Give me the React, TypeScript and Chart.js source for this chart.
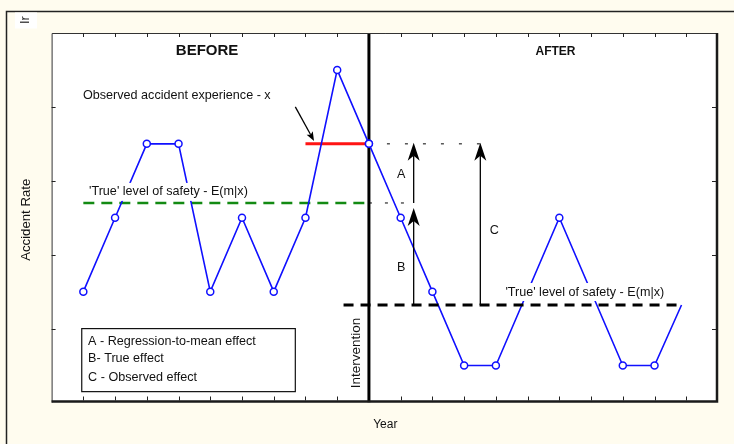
import React, { useEffect, useRef } from "react";
import { Chart, registerables } from "chart.js";

Chart.register(...registerables);

// ---- data ----
const beforeYears = [1, 2, 3, 4, 5, 6, 7, 8, 9, 10];
const beforeRates = [1.5, 2.5, 3.5, 3.5, 1.5, 2.5, 1.5, 2.5, 4.5, 3.5];
const afterYears = [10, 11, 12, 13, 14, 16, 18, 19, 19.85];
const afterRates = [3.5, 2.5, 1.5, 0.5, 0.5, 2.5, 0.5, 0.5, 1.32];
const afterMarkerShown = [1, 1, 1, 1, 1, 1, 1, 1, 0];

const interventionYear = 10;
const observedLevel = 3.5; // x
const trueLevelBefore = 2.7; // E(m|x) before
const trueLevelAfter = 1.32; // E(m|x) after
const observedSpan = [8, 10];
const trueBeforeSpan = [1, 10];
const trueAfterSpan = [9.2, 19.85];
const dottedObservedSpan = [10, 13.6];
const dottedTrueSpan = [10, 11.4];
const arrowABx = 11.41;
const arrowCx = 13.51;

const xTicks = [1, 2, 3, 4, 5, 6, 7, 8, 9, 11, 12, 13, 14, 15, 16, 17, 18, 19, 20];
const yTicks = [1, 2, 3, 4];

const legendLines = ["A - Regression-to-mean effect", "B- True effect", "C - Observed effect"];

const FONT = "'Liberation Sans', Arial, sans-serif";
const BLUE = "#1010ff";
const CREAM = "#fffcef";

function pts(xs: number[], ys: number[]) {
  return xs.map((x, i) => ({ x, y: ys[i] }));
}

function drawArrow(
  ctx: CanvasRenderingContext2D,
  x1: number, y1: number, x2: number, y2: number,
  headLen: number, headW: number, notch: number, lw: number
) {
  const ang = Math.atan2(y2 - y1, x2 - x1);
  const cos = Math.cos(ang), sin = Math.sin(ang);
  const bx = x2 - cos * (headLen - notch), by = y2 - sin * (headLen - notch);
  ctx.save();
  ctx.strokeStyle = "#000";
  ctx.fillStyle = "#000";
  ctx.lineWidth = lw;
  ctx.beginPath();
  ctx.moveTo(x1, y1);
  ctx.lineTo(bx, by);
  ctx.stroke();
  const backX = x2 - cos * headLen, backY = y2 - sin * headLen;
  ctx.beginPath();
  ctx.moveTo(x2, y2);
  ctx.lineTo(backX - sin * headW / 2, backY + cos * headW / 2);
  ctx.lineTo(bx, by);
  ctx.lineTo(backX + sin * headW / 2, backY - cos * headW / 2);
  ctx.closePath();
  ctx.fill();
  ctx.restore();
}

const decorPlugin = {
  id: "decor",
  beforeDraw(chart: any) {
    const { ctx, chartArea: a, width, height } = chart;
    ctx.save();
    ctx.fillStyle = CREAM;
    ctx.fillRect(0, 0, width, height);
    // outer frame
    ctx.strokeStyle = "#222";
    ctx.lineWidth = 1.5;
    ctx.beginPath();
    ctx.moveTo(6.5, height);
    ctx.lineTo(6.5, 11.5);
    ctx.lineTo(width, 11.5);
    ctx.stroke();
    // small clipped title box
    ctx.fillStyle = "#fff";
    ctx.fillRect(15, 12.5, 22, 16);
    ctx.beginPath();
    ctx.rect(15, 12.5, 22, 16);
    ctx.clip();
    ctx.translate(29, 24);
    ctx.rotate(-Math.PI / 2);
    ctx.fillStyle = "#222";
    ctx.font = `13px ${FONT}`;
    ctx.textBaseline = "alphabetic";
    ctx.fillText("Ir", 0, 0);
    ctx.restore();
    // plot area
    ctx.save();
    ctx.fillStyle = "#fff";
    ctx.fillRect(a.left, a.top, a.right - a.left, a.bottom - a.top);
    ctx.restore();
  },
  afterDatasetsDraw(chart: any) {
    const { ctx, chartArea: a } = chart;
    const xs = chart.scales.x, ys = chart.scales.y;
    const X = (v: number) => xs.getPixelForValue(v);
    const Y = (v: number) => ys.getPixelForValue(v);
    ctx.save();
    // frame
    ctx.strokeStyle = "#333";
    ctx.lineWidth = 1;
    ctx.beginPath();
    ctx.moveTo(a.left + 0.5, a.bottom);
    ctx.lineTo(a.left + 0.5, a.top + 0.5);
    ctx.lineTo(a.right, a.top + 0.5);
    ctx.stroke();
    ctx.strokeStyle = "#1a1a1a";
    ctx.lineWidth = 2.5;
    ctx.beginPath();
    ctx.moveTo(a.right - 1, a.top);
    ctx.lineTo(a.right - 1, a.bottom - 1);
    ctx.lineTo(a.left, a.bottom - 1);
    ctx.stroke();
    // ticks
    ctx.strokeStyle = "#222";
    ctx.lineWidth = 1;
    ctx.beginPath();
    xTicks.forEach((t) => {
      const px = Math.round(X(t)) + 0.5;
      ctx.moveTo(px, a.top);
      ctx.lineTo(px, a.top + 4);
      ctx.moveTo(px, a.bottom - 2);
      ctx.lineTo(px, a.bottom - 6);
    });
    yTicks.forEach((t) => {
      const py = Math.round(Y(t)) + 0.5;
      ctx.moveTo(a.left, py);
      ctx.lineTo(a.left + 4, py);
      ctx.moveTo(a.right - 2, py);
      ctx.lineTo(a.right - 6, py);
    });
    ctx.stroke();

    // arrows A, B, C
    drawArrow(ctx, X(arrowABx), Y(trueLevelBefore), X(arrowABx), Y(observedLevel) - 1, 18, 12, 5, 1.3);
    drawArrow(ctx, X(arrowABx), Y(trueLevelAfter), X(arrowABx), Y(trueLevelBefore) + 5, 18, 12, 5, 1.3);
    drawArrow(ctx, X(arrowCx), Y(trueLevelAfter), X(arrowCx), Y(observedLevel) - 1, 18, 12, 5, 1.3);
    // observed arrow
    drawArrow(ctx, X(7.68), Y(4.0), X(8.27), Y(3.54), 9, 7, 2, 1.3);

    // texts
    const text = (
      s: string, x: number, y: number, font: string,
      align: CanvasTextAlign = "left", bg = false
    ) => {
      ctx.font = font;
      ctx.textAlign = align;
      ctx.textBaseline = "middle";
      if (bg) {
        const w = ctx.measureText(s).width;
        const lx = align === "center" ? x - w / 2 : x;
        ctx.fillStyle = "#fff";
        ctx.fillRect(lx - 2, y - 9, w + 4, 18);
      }
      ctx.fillStyle = "#111";
      ctx.fillText(s, x, y);
    };
    const F = `12.6px ${FONT}`;
    text("BEFORE", X(4.9), Y(4.757), `bold 15px ${FONT}`, "center");
    text("AFTER", X(15.88), Y(4.743), `bold 12px ${FONT}`, "center");
    text("Observed accident experience - x", X(0.99), Y(4.16), F, "left", true);
    text("'True' level of safety - E(m|x)", X(1.18), Y(2.85), F, "left", true);
    text("'True' level of safety - E(m|x)", X(14.3), Y(1.495), F, "left", true);
    text("A", X(11.02), Y(3.08), F, "center");
    text("B", X(11.02), Y(1.82), F, "center");
    text("C", X(13.95), Y(2.33), F, "center");

    // intervention rotated
    ctx.save();
    ctx.translate(X(9.6), Y(0.67));
    ctx.rotate(-Math.PI / 2);
    text("Intervention", 0, 0, `13.5px ${FONT}`, "center");
    ctx.restore();

    // legend box
    const bx1 = X(0.95), bx2 = X(7.68), by1 = Y(1.0), by2 = Y(0.147);
    ctx.fillStyle = "#fff";
    ctx.fillRect(bx1, by1, bx2 - bx1, by2 - by1);
    ctx.strokeStyle = "#111";
    ctx.lineWidth = 1.2;
    ctx.strokeRect(bx1, by1, bx2 - bx1, by2 - by1);
    const rows = [0.83, 0.594, 0.337];
    legendLines.forEach((s, i) => text(s, X(1.15), Y(rows[i]), F));

    // axis titles
    text("Year", (a.left + a.right) / 2 + 0.5, 425, `12px ${FONT}`, "center");
    ctx.save();
    ctx.translate(26, (a.top + a.bottom) / 2 + 2);
    ctx.rotate(-Math.PI / 2);
    text("Accident Rate", 0, 0, `13.2px ${FONT}`, "center");
    ctx.restore();

    ctx.restore();
  },
};

export default function App() {
  const ref = useRef<HTMLCanvasElement | null>(null);
  useEffect(() => {
    if (!ref.current) return;
    const seg = (span: number[], level: number) => [
      { x: span[0], y: level },
      { x: span[1], y: level },
    ];
    const chart = new Chart(ref.current, {
      type: "line",
      data: {
        datasets: [
          {
            label: "Before",
            data: pts(beforeYears, beforeRates),
            borderColor: BLUE,
            borderWidth: 1.6,
            pointRadius: 3.5,
            pointBorderWidth: 1.5,
            pointBackgroundColor: "#fff",
            pointBorderColor: BLUE,
            order: 1,
          },
          {
            label: "After",
            data: pts(afterYears, afterRates),
            borderColor: BLUE,
            borderWidth: 1.6,
            pointRadius: afterMarkerShown.map((m) => (m ? 3.5 : 0)),
            pointBorderWidth: 1.5,
            pointBackgroundColor: "#fff",
            pointBorderColor: BLUE,
            order: 1,
          },
          {
            label: "Observed x",
            data: seg(observedSpan, observedLevel),
            borderColor: "#ff1414",
            borderWidth: 3,
            pointRadius: 0,
            order: 3,
          },
          {
            label: "True before",
            data: seg(trueBeforeSpan, trueLevelBefore),
            borderColor: "#138a13",
            borderWidth: 2.5,
            borderDash: [11, 7],
            pointRadius: 0,
            order: 3,
          },
          {
            label: "True after",
            data: seg(trueAfterSpan, trueLevelAfter),
            borderColor: "#000",
            borderWidth: 3,
            borderDash: [10, 7],
            pointRadius: 0,
            order: 0,
          },
          {
            label: "dotted x",
            data: seg(dottedObservedSpan, observedLevel),
            borderColor: "#000",
            borderWidth: 1,
            borderDash: [3, 15],
            pointRadius: 0,
            order: 3,
          },
          {
            label: "dotted E",
            data: seg(dottedTrueSpan, trueLevelBefore),
            borderColor: "#000",
            borderWidth: 1,
            borderDash: [3, 13],
            pointRadius: 0,
            order: 3,
          },
          {
            label: "Intervention",
            data: [
              { x: interventionYear, y: 0 },
              { x: interventionYear, y: 5 },
            ],
            borderColor: "#000",
            borderWidth: 3,
            pointRadius: 0,
            order: 2,
          },
        ],
      },
      options: {
        responsive: false,
        animation: false,
        layout: { padding: { left: 51.6, right: 16, top: 33, bottom: 41.5 } },
        plugins: { legend: { display: false }, tooltip: { enabled: false } },
        scales: {
          x: { type: "linear", min: 0, max: 21, display: false },
          y: { type: "linear", min: 0, max: 5, display: false },
        },
        elements: { line: { tension: 0 } },
      },
      plugins: [decorPlugin],
    });
    return () => chart.destroy();
  }, []);
  return (
    <div style={{ position: "fixed", left: 0, top: 0, width: 734, height: 444 }}>
      <canvas ref={ref} width={734} height={444} />
    </div>
  );
}
